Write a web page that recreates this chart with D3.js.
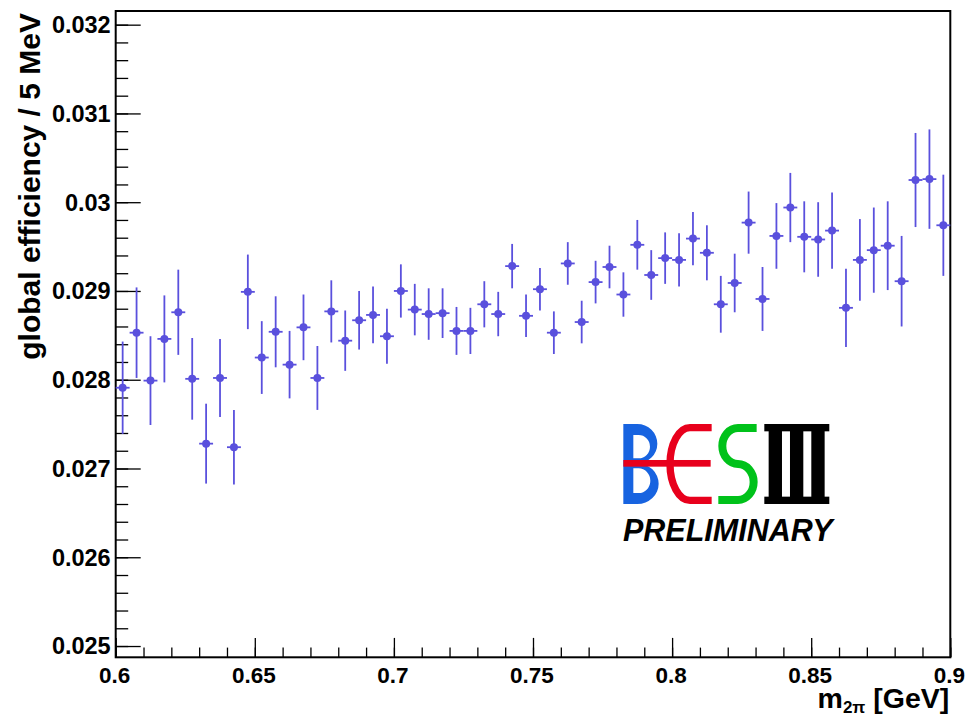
<!DOCTYPE html>
<html>
<head>
<meta charset="utf-8">
<script src="https://cdn.jsdelivr.net/npm/d3@7"></script>
<style>
  html, body { margin: 0; padding: 0; background: #ffffff; }
  svg { display: block; }
  text { font-family: "Liberation Sans", Arial, Helvetica, sans-serif; }
</style>
</head>
<body>
<svg id="chart" width="966" height="717"></svg>
<script>
// ---------------- data ----------------
const binCenters = [
  0.6025, 0.6075, 0.6125, 0.6175, 0.6225, 0.6275, 0.6325, 0.6375, 0.6425, 0.6475,
  0.6525, 0.6575, 0.6625, 0.6675, 0.6725, 0.6775, 0.6825, 0.6875, 0.6925, 0.6975,
  0.7025, 0.7075, 0.7125, 0.7175, 0.7225, 0.7275, 0.7325, 0.7375, 0.7425, 0.7475,
  0.7525, 0.7575, 0.7625, 0.7675, 0.7725, 0.7775, 0.7825, 0.7875, 0.7925, 0.7975,
  0.8025, 0.8075, 0.8125, 0.8175, 0.8225, 0.8275, 0.8325, 0.8375, 0.8425, 0.8475,
  0.8525, 0.8575, 0.8625, 0.8675, 0.8725, 0.8775, 0.8825, 0.8875, 0.8925, 0.8975
];
const efficiency = [
  0.02791, 0.02853, 0.02799, 0.02846, 0.02876, 0.02801, 0.02728, 0.02802, 0.02724, 0.02899,
  0.02825, 0.02854, 0.02817, 0.02859, 0.02802, 0.02877, 0.02844, 0.02867, 0.02873, 0.02849,
  0.02900, 0.02879, 0.02874, 0.02875, 0.02855, 0.02855, 0.02885, 0.02874, 0.02928, 0.02872,
  0.02902, 0.02853, 0.02931, 0.02865, 0.02910, 0.02927, 0.02896, 0.02952, 0.02918, 0.02937,
  0.02935, 0.02959, 0.02943, 0.02885, 0.02909, 0.02977, 0.02891, 0.02962, 0.02994, 0.02961,
  0.02958, 0.02968, 0.02881, 0.02935, 0.02946, 0.02951, 0.02911, 0.03025, 0.03026, 0.02974
];
const efficiencyErr = [
  0.00052, 0.00051, 0.00050, 0.00049, 0.00048, 0.00046, 0.00045, 0.00044, 0.00042, 0.00042,
  0.00041, 0.00040, 0.00038, 0.00037, 0.00036, 0.00035, 0.00034, 0.00033, 0.00032, 0.00031,
  0.00030, 0.00029, 0.00029, 0.00028, 0.00027, 0.00026, 0.00026, 0.00025, 0.00025, 0.00024,
  0.00024, 0.00024, 0.00024, 0.00024, 0.00024, 0.00024, 0.00025, 0.00028, 0.00028, 0.00029,
  0.00030, 0.00030, 0.00031, 0.00032, 0.00033, 0.00035, 0.00036, 0.00037, 0.00039, 0.00040,
  0.00042, 0.00043, 0.00044, 0.00046, 0.00048, 0.00050, 0.00051, 0.00053, 0.00056, 0.00057
];
const binWidth = 0.005;
const xMajorTicks = [0.6, 0.65, 0.7, 0.75, 0.8, 0.85, 0.9];
const xTickLabels = ["0.6", "0.65", "0.7", "0.75", "0.8", "0.85", "0.9"];
const yMajorTicks = [0.025, 0.026, 0.027, 0.028, 0.029, 0.030, 0.031, 0.032];
const yTickLabels = ["0.025", "0.026", "0.027", "0.028", "0.029", "0.03", "0.031", "0.032"];
const xDomain = [0.6, 0.9];
const yDomain = [0.024873, 0.032154];

// ---------------- layout ----------------
const svg = d3.select("#chart");
const L = 115.7, R = 950.3, T = 11, B = 657.3;
const x = d3.scaleLinear().domain(xDomain).range([L, R]);
const y = d3.scaleLinear().domain(yDomain).range([B, T]);
const markerColor = "#5a50dd";

// minor tick values
const xMinor = d3.range(0, 31).map(i => 0.6 + i * 0.01);
const yMinor = d3.range(0, 36).map(i => 0.025 + i * 0.0002).filter(v => v <= yDomain[1]);

// y axis
const yAxisMinor = svg.append("g").attr("transform", `translate(${L},0)`)
  .call(d3.axisRight(y).tickValues(yMinor).tickSize(12.5).tickFormat(""));
const yAxisMajor = svg.append("g").attr("transform", `translate(${L},0)`)
  .call(d3.axisRight(y).tickValues(yMajorTicks).tickSize(25).tickFormat(""));
[yAxisMinor, yAxisMajor].forEach(g => {
  g.select(".domain").remove();
  g.selectAll("line").attr("stroke", "#000").attr("stroke-width", 1.3);
});
svg.append("g").selectAll("text").data(yMajorTicks).join("text")
  .attr("x", L - 5).attr("y", d => y(d)).attr("dy", "0.36em")
  .attr("text-anchor", "end").attr("font-size", 23.5).attr("font-weight", "bold")
  .text((d, i) => yTickLabels[i]);

// x axis
const xAxisMinor = svg.append("g").attr("transform", `translate(0,${B})`)
  .call(d3.axisTop(x).tickValues(xMinor).tickSize(9.7).tickFormat(""));
const xAxisMajor = svg.append("g").attr("transform", `translate(0,${B})`)
  .call(d3.axisTop(x).tickValues(xMajorTicks).tickSize(19.4).tickFormat(""));
[xAxisMinor, xAxisMajor].forEach(g => {
  g.select(".domain").remove();
  g.selectAll("line").attr("stroke", "#000").attr("stroke-width", 1.3);
});
svg.append("g").selectAll("text").data(xMajorTicks).join("text")
  .attr("x", d => x(d) - 1).attr("y", 682.5)
  .attr("text-anchor", "middle").attr("font-size", 22.5).attr("font-weight", "bold")
  .text((d, i) => xTickLabels[i]);

// frame
svg.append("rect").attr("x", L).attr("y", T).attr("width", R - L).attr("height", B - T)
  .attr("fill", "none").attr("stroke", "#000").attr("stroke-width", 2);

// axis titles
svg.append("text")
  .attr("transform", `translate(40,${T + 2}) rotate(-90)`)
  .attr("text-anchor", "end").attr("font-size", 30).attr("font-weight", "bold")
  .text("global efficiency / 5 MeV");

const xt = svg.append("text")
  .attr("x", R - 1).attr("y", 708)
  .attr("text-anchor", "end").attr("font-size", 28.5).attr("font-weight", "bold");
xt.append("tspan").text("m");
xt.append("tspan").attr("font-size", 17).attr("dy", 5).text("2π");
xt.append("tspan").attr("dy", -5).text(" [GeV]");

// data: error bars + markers
const pts = binCenters.map((c, i) => ({ c, v: efficiency[i], e: efficiencyErr[i] }));
const gData = svg.append("g");
gData.selectAll("line.ey").data(pts).join("line").attr("class", "ey")
  .attr("x1", d => x(d.c)).attr("x2", d => x(d.c))
  .attr("y1", d => y(d.v + d.e)).attr("y2", d => y(d.v - d.e))
  .attr("stroke", markerColor).attr("stroke-width", 1.8);
gData.selectAll("line.ex").data(pts).join("line").attr("class", "ex")
  .attr("x1", d => x(d.c - binWidth / 2)).attr("x2", d => x(d.c + binWidth / 2))
  .attr("y1", d => y(d.v)).attr("y2", d => y(d.v))
  .attr("stroke", markerColor).attr("stroke-width", 1.8);
gData.selectAll("circle").data(pts).join("circle")
  .attr("cx", d => x(d.c)).attr("cy", d => y(d.v)).attr("r", 4)
  .attr("fill", markerColor);

// BESIII logo (decoration)
const logo = svg.append("g").attr("transform", "translate(600,400) scale(0.3333)");
logo.append("path")
  .attr("d", "M70,72 H112 A60,59 0 0 1 112,190 A64,61 0 0 1 112,312 H70 Z " +
             "M100,105 H116 A34,35 0 0 1 116,175 H100 Z " +
             "M100,205 H116 A35,37 0 0 1 116,279 H100 Z")
  .attr("fill", "#1763e0").attr("fill-rule", "evenodd");
logo.append("path")
  .attr("d", "M335,83 H270 A60,109 0 0 0 270,301 H335")
  .attr("fill", "none").attr("stroke", "#e8001c").attr("stroke-width", 22);
logo.append("rect").attr("x", 70).attr("y", 180).attr("width", 262).attr("height", 20)
  .attr("fill", "#e8001c");
logo.append("path")
  .attr("d", "M470,84 H414 A47,54 0 0 0 414,192 A47,54 0 0 1 414,300 H355")
  .attr("fill", "none").attr("stroke", "#00c21a").attr("stroke-width", 24);
logo.append("rect").attr("x", 493).attr("y", 72).attr("width", 195).attr("height", 22).attr("fill", "#000");
logo.append("rect").attr("x", 493).attr("y", 290).attr("width", 195).attr("height", 22).attr("fill", "#000");
[506, 570, 634].forEach(bx => {
  logo.append("rect").attr("x", bx).attr("y", 90).attr("width", 40).attr("height", 204).attr("fill", "#000");
});
svg.append("text")
  .attr("x", 623).attr("y", 541)
  .attr("font-size", 30.5).attr("font-weight", "bold").attr("font-style", "italic")
  .attr("fill", "#000")
  .text("PRELIMINARY");
</script>
</body>
</html>
